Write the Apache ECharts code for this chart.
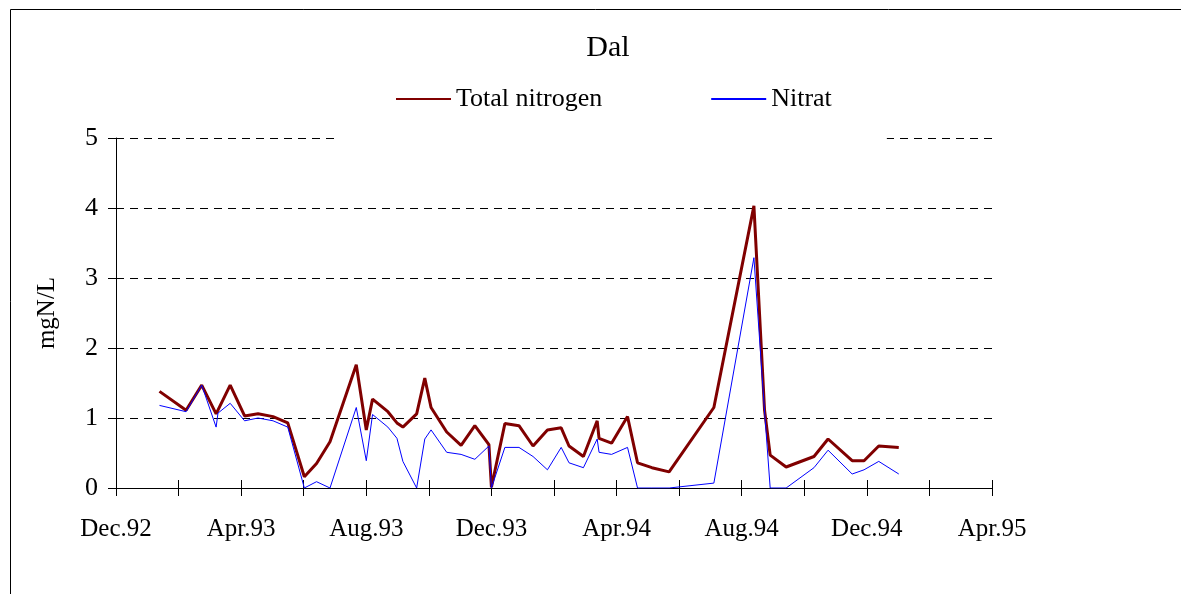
<!DOCTYPE html>
<html>
<head>
<meta charset="utf-8">
<script src="https://cdn.jsdelivr.net/npm/echarts@6/dist/echarts.min.js"></script>
<style>
    html, body { margin: 0; padding: 0; background: #fff; }
    #chart { width: 1181px; height: 594px; }
</style>
</head>
<body>
<div id="chart"></div>
<script>
// sample times, in months counted from 1 Dec 1992
var months = [1.39, 2.24, 2.74, 3.20, 3.26, 3.65, 4.11, 4.54, 5.02, 5.49,
              6.02, 6.41, 6.84, 7.68, 8.00, 8.20, 8.69, 8.98, 9.17, 9.61,
              9.87, 10.07, 10.57, 11.03, 11.47, 11.92, 12.00, 12.43, 12.88, 13.33,
              13.79, 14.23, 14.48, 14.94, 15.38, 15.44, 15.84, 16.35, 16.67, 17.13,
              17.68, 19.11, 20.39, 20.73, 20.91, 21.42, 22.31, 22.76, 23.53, 23.91,
              24.38, 25.02]
var totalN = [1.38, 1.11, 1.47, 1.06, 1.07, 1.47, 1.03, 1.06, 1.02, 0.93,
              0.16, 0.35, 0.66, 1.76, 0.83, 1.27, 1.09, 0.93, 0.87, 1.06,
              1.57, 1.15, 0.80, 0.61, 0.89, 0.62, 0.01, 0.92, 0.89, 0.60,
              0.83, 0.86, 0.60, 0.45, 0.96, 0.71, 0.64, 1.02, 0.36, 0.29,
              0.23, 1.15, 4.03, 1.11, 0.47, 0.30, 0.45, 0.70, 0.39, 0.39,
              0.60, 0.58]
var nitrat = [1.18, 1.09, 1.47, 0.87, 1.07, 1.21, 0.96, 1.00, 0.96, 0.87,
              0.00, 0.09, 0.00, 1.15, 0.39, 1.05, 0.87, 0.71, 0.38, 0.00,
              0.70, 0.83, 0.51, 0.48, 0.41, 0.60, 0.00, 0.58, 0.58, 0.45,
              0.26, 0.58, 0.36, 0.29, 0.70, 0.51, 0.48, 0.58, 0.00, 0.00,
              0.00, 0.07, 3.29, 1.10, 0.00, 0.00, 0.29, 0.54, 0.20, 0.26,
              0.38, 0.20]
var tickLabels = ['Dec.92', 'Apr.93', 'Aug.93', 'Dec.93', 'Apr.94', 'Aug.94', 'Dec.94', 'Apr.95']

var font = 'Liberation Serif'
var chart = echarts.init(document.getElementById('chart'))

function pairs(vals) {
    return months.map(function (m, i) { return [m, vals[i]] })
}

chart.setOption({
    animation: false,
    backgroundColor: '#fff',
    title: {
        text: 'Dal',
        left: 603,
        textAlign: 'center',
        top: 28,
        textStyle: { fontFamily: font, fontSize: 30, fontWeight: 'normal', color: '#000' }
    },
    legend: {
        left: 340,
        top: 76,
        padding: [10, 55, 30, 55],
        backgroundColor: '#fff',
        itemWidth: 55,
        itemHeight: 14,
        itemGap: 108,
        itemTextGap: 6,
        itemStyle: { opacity: 0 },
        data: ['Total nitrogen', 'Nitrat'],
        textStyle: { fontFamily: font, fontSize: 26, color: '#000' }
    },
    graphic: [
        { type: 'line', shape: { x1: 10.5, y1: 9.5, x2: 1181, y2: 9.5 }, style: { stroke: '#000', lineWidth: 1 } },
        { type: 'line', shape: { x1: 10.5, y1: 9.5, x2: 10.5, y2: 594 }, style: { stroke: '#000', lineWidth: 1 } }
    ],
    grid: { left: 116, right: 189, top: 138, bottom: 106 },
    xAxis: [{
        type: 'value',
        min: 0,
        max: 28,
        interval: 2,
        axisLine: { lineStyle: { color: '#000', width: 1 } },
        axisTick: { length: 8, lineStyle: { color: '#000' } },
        axisLabel: {
            margin: 29,
            color: '#000',
            fontFamily: font,
            fontSize: 25,
            formatter: function (v) { return v % 4 === 0 ? tickLabels[v / 4] : '' }
        },
        splitLine: { show: false }
    }, {
        // ticks poking up into the plot
        type: 'value',
        position: 'bottom',
        min: 0,
        max: 28,
        interval: 2,
        axisLine: { show: false },
        axisTick: { inside: true, length: 8, lineStyle: { color: '#000' } },
        axisLabel: { show: false },
        splitLine: { show: false }
    }],
    yAxis: [{
        type: 'value',
        min: 0,
        max: 5,
        interval: 1,
        name: 'mgN/L',
        nameLocation: 'middle',
        nameGap: 56,
        nameTextStyle: { fontFamily: font, fontSize: 25, color: '#000' },
        axisLine: { show: true, lineStyle: { color: '#000', width: 1 } },
        axisTick: { show: true, length: 8, lineStyle: { color: '#000' } },
        axisLabel: { margin: 18, color: '#000', fontFamily: font, fontSize: 26 },
        splitLine: { show: true, lineStyle: { color: '#000', width: 1, type: [8, 6] } }
    }, {
        type: 'value',
        position: 'left',
        min: 0,
        max: 5,
        interval: 1,
        axisLine: { show: false },
        axisTick: { show: true, inside: true, length: 8, lineStyle: { color: '#000' } },
        axisLabel: { show: false },
        splitLine: { show: false }
    }],
    series: [{
        name: 'Total nitrogen',
        type: 'line',
        data: pairs(totalN),
        symbol: 'none',
        lineStyle: { color: '#800000', width: 3 },
        itemStyle: { color: '#800000' }
    }, {
        name: 'Nitrat',
        type: 'line',
        data: pairs(nitrat),
        symbol: 'none',
        lineStyle: { color: '#0000ff', width: 1 },
        itemStyle: { color: '#0000ff' }
    }]
})
</script>
</body>
</html>
